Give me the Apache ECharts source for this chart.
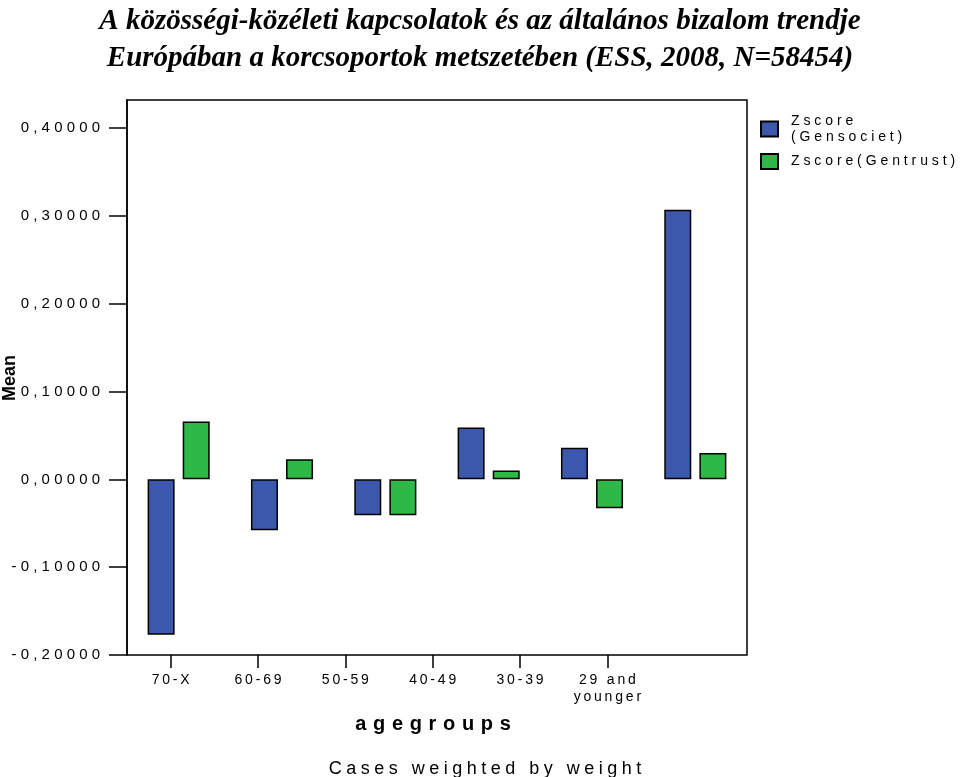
<!DOCTYPE html>
<html>
<head>
<meta charset="utf-8">
<script src="https://cdn.jsdelivr.net/npm/echarts@6/dist/echarts.min.js"></script>
<style>html,body{margin:0;padding:0;background:#fff;}#c{width:960px;height:777px;}</style>
</head>
<body>
<div id="c"></div>
<script>
var categories = ['70-X', '60-69', '50-59', '40-49', '30-39', '29 and\nyounger'];
var seriesNames = ['Zscore (Gensociet)', 'Zscore(Gentrust)'];
var gensociet = [-0.177, -0.058, -0.041, 0.059, 0.036, 0.307];
var gentrust = [0.066, 0.023, -0.041, 0.010, -0.033, 0.030];
var yTicks = { min: -0.2, max: 0.432, interval: 0.1 };

function spaced(s, sp) {
  return s.split('\n').map(function (line) { return line.split('').join(sp); }).join('\n');
}
var SANS = 'Liberation Sans, Arial, sans-serif';
var chart = echarts.init(document.getElementById('c'), null, { renderer: 'canvas' });
var option = {
  animation: false,
  backgroundColor: '#fff',
  title: [{
    text: 'A közösségi-közéleti kapcsolatok és az általános bizalom trendje\nEurópában a korcsoportok metszetében (ESS, 2008, N=58454)',
    left: 'center', top: -2,
    textStyle: { fontFamily: 'Liberation Serif, Times New Roman, serif', fontStyle: 'italic', fontWeight: 'bold', fontSize: 29, lineHeight: 37, color: '#000' }
  }, {
    text: spaced('agegroups', '\u2004'),
    left: 428, textAlign: 'center', top: 709,
    textStyle: { fontFamily: SANS, fontWeight: 'bold', fontSize: 20, color: '#000' }
  }, {
    text: spaced('Cases weighted by weight', '\u2005'),
    left: 480, textAlign: 'center', top: 755,
    textStyle: { fontFamily: SANS, fontWeight: 'normal', fontSize: 18, color: '#000' }
  }],
  graphic: [{
    type: 'text', x: 10, y: 378, rotation: Math.PI / 2,
    style: { text: 'Mean', fill: '#000', font: 'bold 18px Liberation Sans, Arial, sans-serif', textAlign: 'center', textVerticalAlign: 'middle' }
  }],
  legend: {
    orient: 'vertical', left: 760, top: 113, padding: 0,
    itemWidth: 17, itemHeight: 15, itemGap: 8, icon: 'rect',
    data: seriesNames,
    formatter: function (n) {
      if (n === seriesNames[0]) return spaced('Zscore\n(Gensociet)', ' ');
      return spaced(n, ' ');
    },
    textStyle: { fontFamily: SANS, fontSize: 14, color: '#000', lineHeight: 16, padding: [0, 0, 0, 8] }
  },
  grid: [
    { left: 127, right: 213, top: 100, bottom: 122, show: true, borderColor: '#000', borderWidth: 1.5, backgroundColor: 'transparent', containLabel: false, outerBoundsMode: 'none' },
    { left: 127, width: 524, top: 100, bottom: 122, show: false, containLabel: false, outerBoundsMode: 'none' }
  ],
  xAxis: [{
    type: 'category', gridIndex: 0, data: categories,
    axisLine: { show: false }, axisTick: { show: false }, axisLabel: { show: false }, splitLine: { show: false }
  }, {
    type: 'category', gridIndex: 1, data: categories, position: 'bottom',
    axisLine: { show: false, onZero: false },
    axisTick: { show: true, alignWithLabel: true, length: 13, interval: 0, lineStyle: { color: '#000', width: 1.5 } },
    axisLabel: {
      interval: 0, margin: 17, color: '#000', fontFamily: SANS, fontSize: 14, lineHeight: 17,
      formatter: function (v) { return spaced(v, '\u2009'); }
    }
  }],
  yAxis: [{
    type: 'value', gridIndex: 0, min: yTicks.min, max: yTicks.max, interval: yTicks.interval,
    axisLine: { show: true, lineStyle: { color: '#000', width: 1.5 } },
    axisTick: { show: true, inside: false, length: 18, lineStyle: { color: '#000', width: 1.5 } },
    splitLine: { show: false },
    axisLabel: {
      showMaxLabel: false, margin: 27, color: '#000', fontFamily: SANS, fontSize: 15,
      formatter: function (v) {
        if (Math.abs(v) < 1e-9) v = 0;
        return spaced(v.toFixed(5).replace('.', ','), ' ');
      }
    }
  }, {
    type: 'value', gridIndex: 1, show: false, min: yTicks.min, max: yTicks.max
  }],
  series: [{
    name: seriesNames[0], type: 'bar', xAxisIndex: 0, yAxisIndex: 0, data: gensociet,
    barWidth: 27, barGap: '30%',
    itemStyle: { color: '#3C58AA', borderColor: '#000', borderWidth: 1.5 }
  }, {
    name: seriesNames[1], type: 'bar', xAxisIndex: 0, yAxisIndex: 0, data: gentrust,
    barWidth: 27, barGap: '30%',
    itemStyle: { color: '#2EB848', borderColor: '#000', borderWidth: 1.5 }
  }]
};
chart.setOption(option);
</script>
</body>
</html>
